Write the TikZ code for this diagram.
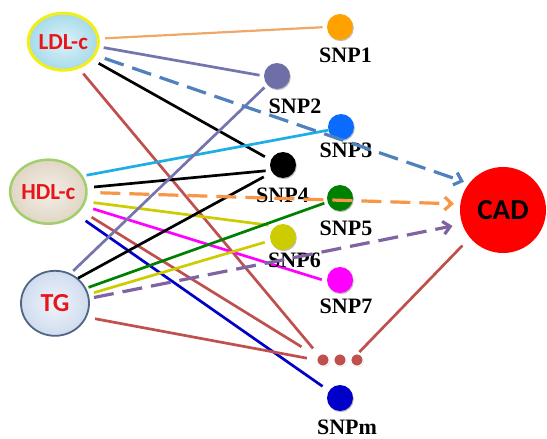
\documentclass[tikz,border=0pt]{standalone}
\usepackage{fontspec}
\setmainfont{Liberation Serif}
\newfontfamily\calib{Carlito}
\usetikzlibrary{arrows.meta,shapes.geometric,shadows}
\definecolor{lnOrange}{HTML}{F0A868}
\definecolor{cSnpA}{HTML}{FFA200}
\definecolor{lnPurple}{HTML}{7474AE}
\definecolor{cSnpB}{HTML}{6F6FA8}
\definecolor{dashBlue}{HTML}{4F81BD}
\definecolor{cSnpC}{HTML}{0A6CFF}
\definecolor{lnCyan}{HTML}{1CAEE4}
\definecolor{dashOrange}{HTML}{F79646}
\definecolor{lnYellow}{HTML}{CCCC00}
\definecolor{lnMagenta}{HTML}{FF00FF}
\definecolor{cBrown}{HTML}{C0504D}
\definecolor{lnBlue}{HTML}{0000C8}
\definecolor{cGreen}{HTML}{008000}
\definecolor{dashPurple}{HTML}{8064A2}
\definecolor{txtRed}{HTML}{E8161B}
\definecolor{ldlIn}{HTML}{DDF3F9}
\definecolor{ldlOut}{HTML}{A6DAEA}
\definecolor{ldlRim}{HTML}{F2EE1A}
\definecolor{hdlIn}{HTML}{F4EFE6}
\definecolor{hdlOut}{HTML}{E0D6C6}
\definecolor{hdlRim}{HTML}{A2CF6A}
\definecolor{tgIn}{HTML}{F0F4FB}
\definecolor{tgOut}{HTML}{CFDCEE}
\definecolor{tgRim}{HTML}{4F6585}
\tikzset{
  bigell/.style={ellipse, inner sep=0pt, outer sep=0pt, shading=radial,
    font=\calib\bfseries\fontsize{23}{23}\selectfont, text=txtRed},
  snpdot/.style={circle, minimum size=26pt, inner sep=0pt, outer sep=0pt,
    drop shadow={shadow xshift=0.8pt, shadow yshift=-1.2pt, opacity=0.25, fill=black}},
  smalldot/.style={circle, minimum size=12.5pt, inner sep=0pt, outer sep=0pt,
    fill=cBrown, draw=white, line width=1.3pt,
    drop shadow={shadow xshift=0.6pt, shadow yshift=-0.8pt, opacity=0.2, fill=black}},
  lab/.style={font=\bfseries\fontsize{22}{22}\selectfont, anchor=base, inner sep=0pt},
  conn/.style={line width=2.7pt},
  dashconn/.style={line width=3.2pt, dash pattern=on 20pt off 9pt,
    -{Straight Barb[length=7pt,width=13pt]}}
}
\begin{document}
\begin{tikzpicture}[x=1pt,y=-1pt]
\useasboundingbox[fill=white] (0,0) rectangle (547,439);
% big nodes
\node[bigell, minimum width=70pt, minimum height=57pt, inner color=ldlIn, outer color=ldlOut,
      draw=ldlRim, line width=3pt] (ldl) at (63.3,41.7) {LDL-c};
\node[bigell, minimum width=64pt, minimum height=64pt, inner color=hdlIn, outer color=hdlOut,
      draw=hdlRim, line width=2.5pt] (hdl) at (48.3,191.7) {HDL-c};
\node[bigell, minimum width=68pt, minimum height=65pt, inner color=tgIn, outer color=tgOut,
      draw=tgRim, line width=1.8pt, font=\calib\bfseries\fontsize{26}{26}\selectfont] (tg) at (55,303.3) {TG};
\node[circle, minimum size=86pt, inner sep=0pt, outer sep=0pt, fill=red,
      font=\calib\bfseries\fontsize{29}{29}\selectfont] (cad) at (503,210) {CAD};
% snp dots
\node[snpdot, fill=cSnpA] (snp1) at (340,27) {};
\node[snpdot, fill=cSnpB] (snp2) at (277,76) {};
\node[snpdot, fill=cSnpC] (snp3) at (341,127) {};
\node[snpdot, fill=black] (snp4) at (283,165) {};
\node[snpdot, fill=cGreen] (snp5) at (340,198) {};
\node[snpdot, fill=lnYellow] (snp6) at (283,237) {};
\node[snpdot, fill=lnMagenta] (snp7) at (340,280) {};
\node[smalldot] (d1) at (323,360) {};
\node[smalldot] (d2) at (340,360) {};
\node[smalldot] (d3) at (357,360) {};
\node[snpdot, fill=lnBlue] (snpm) at (340,398) {};
% solid connectors from LDL-c
\draw[conn, lnOrange, line width=2.2pt, shorten <=7pt, shorten >=4.5pt] (ldl.5) -- (snp1.180);
\draw[conn, lnPurple, shorten <=6pt, shorten >=4.5pt] (ldl.-8) -- (snp2.180);
\draw[conn, black, shorten <=8.7pt, shorten >=7pt] (ldl.-32) -- (snp4.158);
\draw[conn, cBrown, shorten <=8pt, shorten >=9pt] (ldl.-60) -- (d1.132);
% from HDL-c
\draw[conn, lnCyan, shorten <=5pt] (hdl.25) -- (snp3.194);
\draw[conn, black, shorten <=8pt, shorten >=5.5pt] (hdl.6) -- (snp4.204);
\draw[conn, lnYellow, shorten <=9pt, shorten >=7.5pt] (hdl.-15) -- (snp6.123);
\draw[conn, lnMagenta, shorten <=11pt, shorten >=5.5pt] (hdl.-22.5) -- (snp7.186);
\draw[conn, cBrown, shorten <=14pt, shorten >=19pt] (hdl.-30) -- (d1.149);
\draw[conn, lnBlue, shorten <=12pt, shorten >=8pt] (hdl.-39.6) -- (snpm.147);
% from TG
\draw[conn, lnPurple, shorten <=4.6pt, shorten >=4pt] (tg.63) -- (snp2.222);
\draw[conn, black, shorten <=1pt, shorten >=9.6pt] (tg.48.5) -- (snp4.214);
\draw[conn, cGreen, shorten <=3.5pt, shorten >=3.5pt] (tg.26.6) -- (snp5.198);
\draw[conn, lnYellow, shorten <=6.5pt, shorten >=6pt] (tg.15.4) -- (snp6.196);
\draw[conn, cBrown, shorten <=9.4pt, shorten >=10pt] (tg.-24) -- (d1.180);
% from CAD
\draw[conn, cBrown, shorten <=11pt, shorten >=2.5pt] (cad.220.5) -- (d3.84);
% labels
\node[lab] (l1) at (345.5,63) {SNP1};
\node[lab] (l2) at (295,113) {SNP2};
\node[lab] (l3) at (346,157) {SNP3};
\node[lab] (l4) at (282.5,202) {SNP4};
\node[lab] (l5) at (346,235) {SNP5};
\node[lab] (l6) at (294.5,267) {SNP6};
\node[lab] (l7) at (346,313) {SNP7};
\node[lab] (lm) at (347,434) {SNPm};
% dashed arrows to CAD
\draw[dashconn, dashBlue, shorten <=11pt, shorten >=5.5pt] (ldl.-23) -- (cad.142);
\draw[dashconn, dashOrange, shorten <=14pt, shorten >=6.5pt] (hdl.-1) -- (cad.172);
\draw[dashconn, dashPurple, shorten <=5.5pt, shorten >=10pt] (tg.8.5) -- (cad.199);
\end{tikzpicture}
\end{document}
